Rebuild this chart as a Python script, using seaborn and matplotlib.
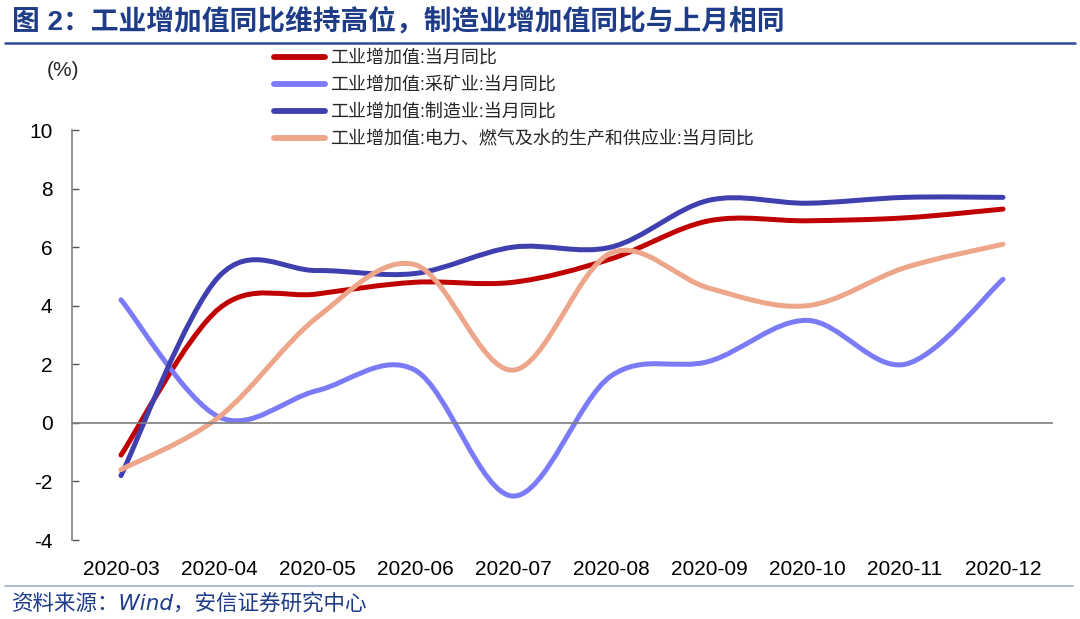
import numpy as np
import pandas as pd
import matplotlib
matplotlib.use("Agg")
import matplotlib.pyplot as plt
from matplotlib.path import Path
from matplotlib.patches import PathPatch
from matplotlib.lines import Line2D
import seaborn as sns

# Data
months = ["2020-03", "2020-04", "2020-05", "2020-06", "2020-07",
          "2020-08", "2020-09", "2020-10", "2020-11", "2020-12"]
total = [-1.1, 3.9, 4.4, 4.8, 4.8, 5.6, 6.9, 6.9, 7.0, 7.3]
mining = [4.2, 0.2, 1.1, 1.8, -2.5, 1.6, 2.1, 3.5, 2.0, 4.9]
manufacturing = [-1.8, 5.0, 5.2, 5.1, 6.0, 6.0, 7.6, 7.5, 7.7, 7.7]
utilities = [-1.6, 0.2, 3.6, 5.4, 1.8, 5.8, 4.6, 4.0, 5.3, 6.1]

labels = ["工业增加值:当月同比", "工业增加值:采矿业:当月同比",
          "工业增加值:制造业:当月同比", "工业增加值:电力、燃气及水的生产和供应业:当月同比"]
colors = ["#C00000", "#7B7BF7", "#3F3FAF", "#EDA68A"]

df = pd.DataFrame({"month": months, labels[0]: total, labels[1]: mining,
                   labels[2]: manufacturing, labels[3]: utilities})

sns.set_theme(style="white")
plt.rcParams["font.family"] = ["Liberation Sans", "Noto Sans CJK SC", "DejaVu Sans"]
plt.rcParams["axes.unicode_minus"] = False


def smooth_path(xs, ys):
    # Excel-style smoothed line: cubic bezier segments through the data points
    pts = np.column_stack([xs, ys]).astype(float)
    n = len(pts)
    verts = [pts[0]]
    codes = [Path.MOVETO]
    for i in range(n - 1):
        p0 = pts[i - 1] if i > 0 else pts[i]
        p1 = pts[i]
        p2 = pts[i + 1]
        p3 = pts[i + 2] if i + 2 < n else pts[i + 1]
        c1 = p1 + (p2 - p0) / 6.0
        c2 = p2 - (p3 - p1) / 6.0
        verts += [c1, c2, p2]
        codes += [Path.CURVE4] * 3
    return Path(verts, codes)


fig = plt.figure(figsize=(10.8, 6.19), dpi=100)
ax = fig.add_axes([72 / 1080, 1 - 540 / 619, 980 / 1080, 410 / 619])

x = np.arange(len(months))
for lab, col in zip(labels, colors):
    patch = PathPatch(smooth_path(x, df[lab].values), facecolor="none",
                      edgecolor=col, lw=3.6, capstyle="round", joinstyle="round")
    ax.add_patch(patch)

ax.set_xlim(-0.5, len(months) - 0.5)
ax.set_ylim(-4, 10)
ax.set_yticks(range(-4, 11, 2))

for s in ["top", "right"]:
    ax.spines[s].set_visible(False)
ax.spines["bottom"].set_position(("data", 0))
for s in ["left", "bottom"]:
    ax.spines[s].set_color("#7F7F7F")
    ax.spines[s].set_linewidth(1.2)

ax.set_xticks(x)
ax.set_xticklabels(months)
ax.set_xticks(list(x[:-1] + 0.5) + [len(months) - 0.5], minor=True)
ax.tick_params(axis="x", which="major", length=0, pad=99, labelsize=15, colors="black")
ax.tick_params(axis="x", which="minor", direction="in", length=5, width=1, color="#555555")
ax.tick_params(axis="y", direction="in", length=5, width=1, color="#555555",
               pad=14, labelsize=15, labelcolor="black", left=True)
ax.set_xlabel("")
ax.grid(False)

fig.text(63 / 1080, 1 - 70 / 619, "(%)", fontsize=15, ha="center", va="center")

handles = [Line2D([], [], color=c, lw=4.2, solid_capstyle="round") for c in colors]
fig.legend(handles, labels, loc="upper left", bbox_to_anchor=(274 / 1080, 1 - 50 / 619),
           frameon=False, fontsize=13, handlelength=2.8, handletextpad=0.3,
           labelspacing=0.55, borderpad=0, borderaxespad=0)

# title and source
fig.text(12 / 1080, 1 - 22 / 619, "图 2：工业增加值同比维持高位，制造业增加值同比与上月相同",
         fontsize=20, fontweight="bold", color="#1F3C88", ha="left", va="center")
fig.add_artist(Line2D([5 / 1080, 1075 / 1080], [1 - 43 / 619] * 2, color="#2E4A9E", lw=1.8))
fig.add_artist(Line2D([5 / 1080, 1073 / 1080], [1 - 586 / 619] * 2, color="#9DB0C8", lw=1.2))
fig.text(12 / 1080, 1 - 603 / 619, "资料来源：Wind，安信证券研究中心", fontsize=15.5,
         style="italic", color="#1F3C88", ha="left", va="center",
         family=["DejaVu Sans", "Noto Sans CJK SC"])

fig.savefig("out.png", dpi=100)
